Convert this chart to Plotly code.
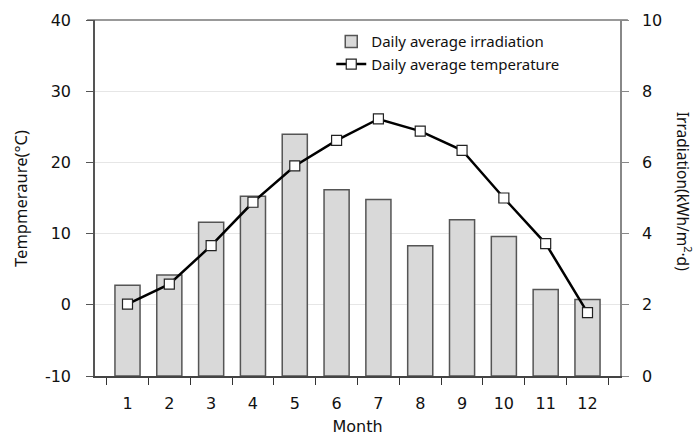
import plotly.graph_objects as go

months = [str(m) for m in range(1, 13)]
irradiation = [2.55, 2.84, 4.32, 5.05, 6.79, 5.23, 4.96, 3.66, 4.39, 3.92, 2.43, 2.15]
temperature = [0.1, 2.9, 8.3, 14.4, 19.5, 23.1, 26.1, 24.4, 21.7, 15.0, 8.6, -1.1]

temp_ticks = [-10, 0, 10, 20, 30, 40]
temp_labels = ["-10", "0", "10", "20", "30", "40"]
irr_ticks = [0, 2, 4, 6, 8, 10]

tick_font = dict(family="DejaVu Sans", size=16, color="#111")
title_font = dict(family="Noto Sans", size=16.5, color="#111")

fig = go.Figure()

fig.add_trace(go.Bar(
    x=months, y=irradiation, name="Daily average irradiation",
    width=0.6, marker=dict(color="#d9d9d9", line=dict(color="#555", width=1.5)),
    yaxis="y",
))
fig.add_trace(go.Scatter(
    x=months, y=temperature, name="Daily average temperature",
    mode="lines+markers",
    line=dict(color="#000", width=2.5),
    marker=dict(symbol="square", size=10, color="white", line=dict(color="#222", width=1.2)),
    yaxis="y2",
))

fig.update_layout(
    width=698, height=436,
    margin=dict(l=95, r=78, t=20, b=60),
    plot_bgcolor="white", paper_bgcolor="white",
    showlegend=True,
    legend=dict(x=0.45, y=0.985, xanchor="left", yanchor="top",
                font=dict(family="Noto Sans", size=15, color="#111"),
                bgcolor="rgba(0,0,0,0)", itemwidth=30, tracegroupgap=0),
    xaxis=dict(
        type="category", tickson="boundaries", automargin=False,
        ticks="outside", ticklen=7, tickcolor="#333", tickwidth=1,
        showline=True, linecolor="#444", linewidth=1.5,
        showgrid=False, tickfont=tick_font, ticklabelstandoff=12,
        title=dict(text="Month", font=dict(family="DejaVu Sans", size=16, color="#111"), standoff=10),
    ),
    # irradiation on the right
    yaxis=dict(
        side="right", range=[0, 10], tickvals=irr_ticks, automargin=False,
        ticks="outside", ticklen=7, tickcolor="#888",
        showline=True, linecolor="#888", linewidth=1.5,
        showgrid=False, zeroline=False, tickfont=tick_font, ticklabelstandoff=10,
    ),
    # temperature on the left
    yaxis2=dict(
        overlaying="y", side="left", range=[-10, 40], automargin=False,
        tickvals=temp_ticks, ticktext=temp_labels,
        ticks="outside", ticklen=7, tickcolor="#555",
        showline=True, linecolor="#555", linewidth=1.5,
        showgrid=True, gridcolor="#e6e6e6", gridwidth=1.2, zeroline=False,
        tickfont=tick_font, ticklabelstandoff=12,
    ),
    barmode="overlay",
)

# top border line at the 40 / 10 level
fig.add_shape(type="line", xref="paper", yref="paper", x0=-0.015, x1=1.015, y0=1, y1=1,
              line=dict(color="#999", width=2), layer="below")

fig.add_annotation(text="Tempmeraure(°C)", xref="paper", yref="paper",
                   x=-0.143, y=0.5, xanchor="center", yanchor="middle",
                   textangle=-90, showarrow=False, font=title_font)
fig.add_annotation(text="Irradiation(kWh/m<sup>2</sup>·d)", xref="paper", yref="paper",
                   x=1.122, y=0.52, xanchor="center", yanchor="middle",
                   textangle=90, showarrow=False, font=dict(family="Noto Sans", size=15.5, color="#111"))

fig.write_html("out.html")
